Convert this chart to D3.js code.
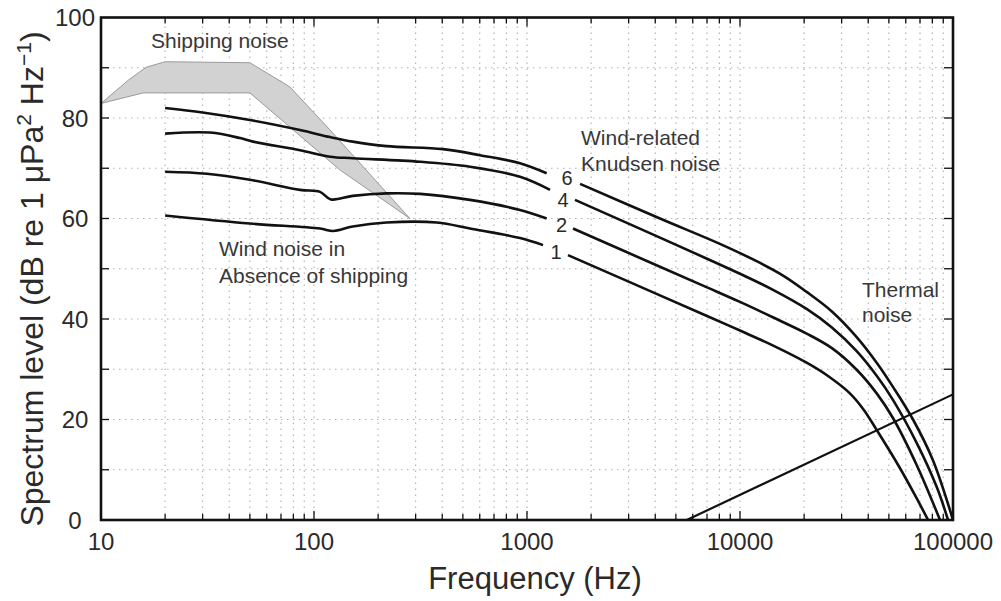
<!DOCTYPE html>
<html><head><meta charset="utf-8">
<script src="https://cdn.jsdelivr.net/npm/d3@7"></script>
<style>
html,body{margin:0;padding:0;background:#fff;}
svg{display:block;font-family:"Liberation Sans",Arial,Helvetica,sans-serif;}
</style></head>
<body><svg id="chart" width="1001" height="601"></svg>
<script>
// ---------- data ----------
const freqTicks = [10, 100, 1000, 10000, 100000];
const levelTicks = [0, 20, 40, 60, 80, 100];
const windSpeeds = ["6", "4", "2", "1"];

// wind-related curves: [frequency Hz, level dB]; null = gap for label
const wind6 = [[20,82],[30,81.1],[50,79.6],[86,77.6],[119,76.2],[152,75.3],[219,74.4],[403,73.8],[601,72.6],[927,71],[1237,69],null,
  [1775,66.9],[4210,60.0],[8000,55.0],[11970,51.5],[16000,48.6],[20550,45.4],[27000,41.5],[35300,36.4],[44000,31.2],[52250,26.5],[64900,20.0],[80500,11.9],[100000,0]];
const wind4 = [[20,76.9],[32.5,77.1],[45,76],[51.7,75.3],[86,73.6],[119,72.3],[152,72],[315,71.3],[540,70.3],[927,68.3],[1283,65.7],null,
  [1680,63.7],[4210,56.2],[7000,52.0],[10000,49.0],[14000,46.0],[20550,42.0],[27000,38.3],[35300,33.6],[44000,28.6],[52250,23.9],[67600,15.3],[83800,6.6],[94800,0]];
const wind2 = [[20,69.3],[31.4,68.9],[50,67.7],[86,65.7],[106.7,65.3],[120,63.8],[152,64.5],[219,65],[315,64.9],[540,63.7],[927,61.7],[1237,60],null,
  [1644,58],[4210,50.4],[7000,46.3],[10000,43.4],[14000,40.5],[20550,37.1],[27000,34.2],[35300,29.9],[44000,25.1],[52250,20.3],[67600,10.9],[86900,0]];
const wind1 = [[20,60.6],[50,59],[106.7,58],[123,57.5],[152,58.4],[219,59.2],[377,59.2],[540,58],[927,56.1],[1189,54.7],null,
  [1557,52.7],[4210,44.7],[7000,40.6],[10000,37.7],[14000,34.9],[20550,31.3],[26000,28.6],[32800,25.2],[38000,22.0],[43850,17.9],[56400,10.3],[66000,5.1],[76400,0]];

const shipUpper = [[10,82.9],[13.5,87.6],[16.3,90.1],[20,91.2],[50,91],[77,86.2],[119,77.6],[282,60]];
const shipLower = [[10,82.9],[15.8,85],[50,85],[132,69.7],[282,60]];
const thermal = [[5623,0],[100000,25]];

// ---------- layout ----------
const W = 1001, H = 601;
const m = {left:101, right:48, top:17.5, bottom:81};
const svg = d3.select("#chart");
const x = d3.scaleLog().domain([10, 100000]).range([m.left, W - m.right]);
const y = d3.scaleLinear().domain([0, 100]).range([H - m.bottom, m.top]);
const x0 = x.range()[0], x1 = x.range()[1], y0 = y.range()[0], y1 = y.range()[1];

// grid
const minorF = [];
for (let k = 1; k <= 4; k++) for (let d = 1; d <= 9; d++) minorF.push(d * Math.pow(10, k));
minorF.push(100000);
const gridLevels = d3.range(10, 100, 10);
const grid = svg.append("g").attr("stroke", "#b0b0b0").attr("stroke-width", 1.1).attr("stroke-dasharray", "1.5,4.5");
grid.selectAll("line.v").data(minorF.filter(f => f > 10 && f < 100000)).join("line")
  .attr("x1", d => x(d)).attr("x2", d => x(d)).attr("y1", y0).attr("y2", y1);
grid.selectAll("line.h").data(gridLevels).join("line")
  .attr("x1", x0).attr("x2", x1).attr("y1", d => y(d)).attr("y2", d => y(d));

// shipping band
const lineGen = d3.line().defined(d => d).x(d => x(d[0])).y(d => y(d[1]));
svg.append("path")
  .attr("d", lineGen(shipUpper.concat(shipLower.slice().reverse())) + "Z")
  .attr("fill", "#d2d2d2").attr("stroke", "#9a9a9a").attr("stroke-width", 1).attr("stroke-linejoin", "round");

// wind curves
const curveGen = d3.line().defined(d => d).curve(d3.curveCatmullRom.alpha(0.5)).x(d => x(d[0])).y(d => y(d[1]));
[wind6, wind4, wind2, wind1].forEach(s => {
  svg.append("path").attr("d", curveGen(s)).attr("fill", "none")
    .attr("stroke", "#111").attr("stroke-width", 2.6).attr("stroke-linejoin", "round").attr("stroke-linecap", "butt");
});
// thermal
svg.append("path").attr("d", lineGen(thermal)).attr("fill", "none").attr("stroke", "#111").attr("stroke-width", 2.2);

// axes ticks
const ticks = svg.append("g").attr("stroke", "#111").attr("stroke-width", 1.3);
const tickF = minorF.filter(f => f > 10 && f < 100000);
ticks.selectAll("line.b").data(tickF).join("line")
  .attr("x1", d => x(d)).attr("x2", d => x(d)).attr("y1", y0).attr("y2", d => y0 - (freqTicks.includes(d) ? 9 : 6));
ticks.selectAll("line.t").data(tickF).join("line")
  .attr("x1", d => x(d)).attr("x2", d => x(d)).attr("y1", y1).attr("y2", d => y1 + (freqTicks.includes(d) ? 9 : 6));
ticks.selectAll("line.l").data(gridLevels).join("line")
  .attr("x1", x0).attr("x2", x0 + 8).attr("y1", d => y(d)).attr("y2", d => y(d));
ticks.selectAll("line.r").data(gridLevels).join("line")
  .attr("x1", x1).attr("x2", x1 - 9).attr("y1", d => y(d)).attr("y2", d => y(d));

// frame
svg.append("rect").attr("x", x0).attr("y", y1).attr("width", x1 - x0).attr("height", y0 - y1)
  .attr("fill", "none").attr("stroke", "#111").attr("stroke-width", 2.6);

// tick labels
const tl = svg.append("g").attr("fill", "#2a2a2a").attr("font-size", 24);
tl.selectAll("text.x").data(freqTicks).join("text")
  .attr("x", d => x(d)).attr("y", 550).attr("text-anchor", "middle").text(d => d3.format("d")(d));
tl.selectAll("text.y").data(levelTicks).join("text")
  .attr("x", x0 - 26).attr("y", d => y(d)).attr("dy", "0.36em").attr("text-anchor", "middle").text(d => d);

// axis titles
svg.append("text").attr("x", 535).attr("y", 589).attr("text-anchor", "middle")
  .attr("font-size", 31).attr("fill", "#2a2a2a").text("Frequency (Hz)");
const yt = svg.append("text").attr("transform", "translate(43,279) rotate(-90)")
  .attr("text-anchor", "middle").attr("font-size", 32).attr("fill", "#2a2a2a");
yt.append("tspan").text("Spectrum level (dB re 1 μPa");
yt.append("tspan").attr("font-size", 21).attr("dy", -12).text("2");
yt.append("tspan").attr("dy", 12).text(" Hz");
yt.append("tspan").attr("font-size", 21).attr("dy", -12).text("−1");
yt.append("tspan").attr("dy", 12).text(")");

// annotations
const ann = svg.append("g").attr("font-size", 21).attr("fill", "#383838");
ann.append("text").attr("x", 151).attr("y", 48).text("Shipping noise");
ann.append("text").attr("x", 219).attr("y", 256).text("Wind noise in");
ann.append("text").attr("x", 219).attr("y", 283).text("Absence of shipping");
ann.append("text").attr("x", 581).attr("y", 145).text("Wind-related");
ann.append("text").attr("x", 581).attr("y", 171).text("Knudsen noise");
ann.append("text").attr("x", 862).attr("y", 297).text("Thermal");
ann.append("text").attr("x", 862).attr("y", 322).text("noise");

// wind speed labels
const labelPos = [[567,177.5],[563,199.5],[561.5,225],[556,252]];
svg.append("g").attr("font-size", 20).attr("fill", "#2a2a2a").attr("text-anchor", "middle")
  .selectAll("text").data(windSpeeds).join("text")
  .attr("x", (d, i) => labelPos[i][0]).attr("y", (d, i) => labelPos[i][1]).attr("dy", "0.36em").text(d => d);
</script>
</body></html>
